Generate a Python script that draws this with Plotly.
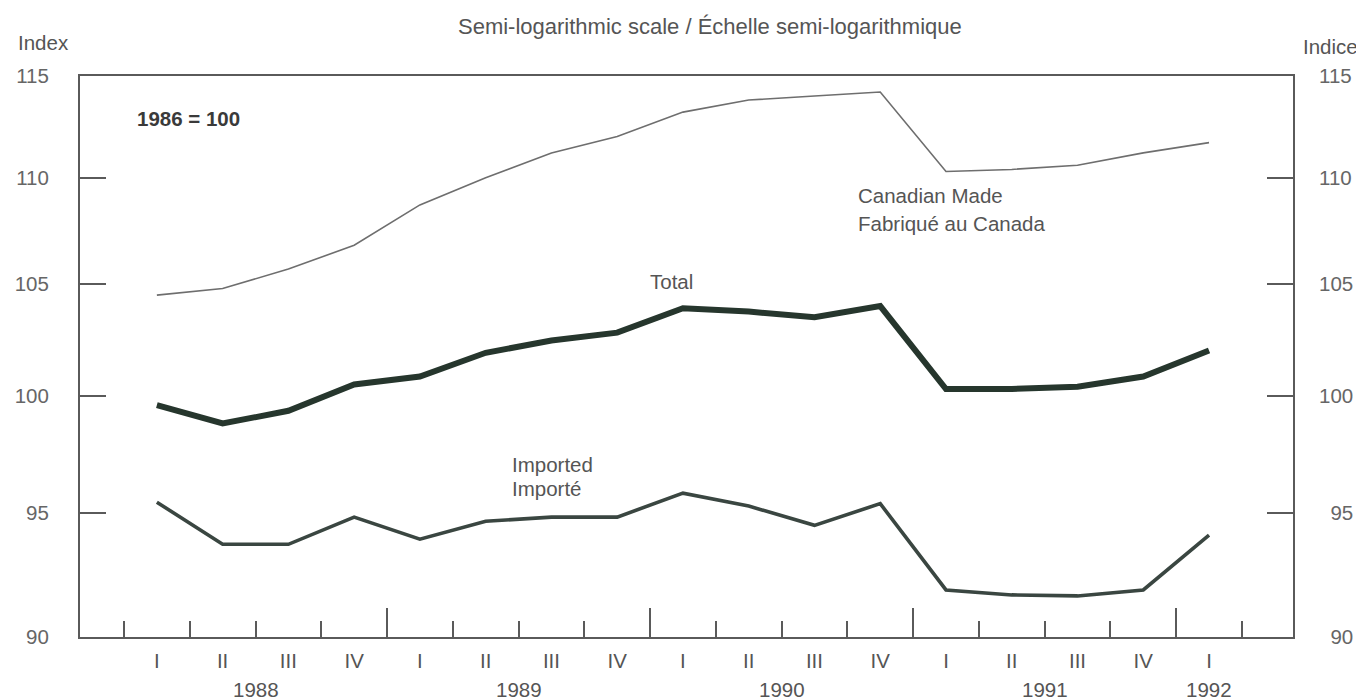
import math
import plotly.graph_objects as go

# ---- data ----
quarters = ["I", "II", "III", "IV", "I", "II", "III", "IV", "I", "II", "III", "IV",
            "I", "II", "III", "IV", "I"]
years = [1988, 1988, 1988, 1988, 1989, 1989, 1989, 1989, 1990, 1990, 1990, 1990,
         1991, 1991, 1991, 1991, 1992]
canadian_made = [104.5, 104.8, 105.7, 106.8, 108.7, 110.0, 111.2, 112.0, 113.2, 113.8,
                 114.0, 114.2, 110.3, 110.4, 110.6, 111.2, 111.7]
total = [99.6, 98.8, 99.35, 100.5, 100.85, 101.9, 102.45, 102.8, 103.9, 103.75,
         103.5, 104.0, 100.3, 100.3, 100.4, 100.85, 102.0]
imported = [95.46, 93.72, 93.72, 94.84, 93.93, 94.67, 94.84, 94.84, 95.84, 95.3,
            94.5, 95.4, 91.87, 91.67, 91.63, 91.87, 94.1]
y_ticks = [90, 95, 100, 105, 110, 115]

FONT = "Liberation Sans, Arial, sans-serif"
TXT = "#555555"
AX = "#5a5a5a"
FS = 20.5

# plot-area geometry (pixels)
L, R, T, B = 72, 1285, 68, 629
W, H = 1364, 700
PW, PH = R - L, B - T

def px(xp):
    return (xp - L) / PW

def py(yp):
    return (B - yp) / PH

xi = list(range(len(quarters)))
quarter_bounds = [i - 0.5 for i in range(len(quarters) + 1)]
year_bounds = [i - 0.5 for i in xi if quarters[i] == "I" and i > 0]
xr = [-1.169, 17.277]
yr = [math.log10(90), math.log10(115)]

fig = go.Figure()
fig.add_trace(go.Scatter(x=xi, y=canadian_made, mode="lines",
                         line=dict(color="#6e6e6e", width=1.6), hoverinfo="skip"))
fig.add_trace(go.Scatter(x=xi, y=total, mode="lines",
                         line=dict(color="#26362d", width=6), hoverinfo="skip"))
fig.add_trace(go.Scatter(x=xi, y=imported, mode="lines",
                         line=dict(color="#3a4641", width=3.6), hoverinfo="skip"))
# helper trace so the overlay axes are drawn
fig.add_trace(go.Scatter(x=[None], y=[None], xaxis="x2", yaxis="y2",
                         mode="lines", hoverinfo="skip", showlegend=False))

fig.update_layout(
    width=W, height=H,
    margin=dict(l=L, r=W - R, t=T, b=H - B, autoexpand=False),
    paper_bgcolor="white", plot_bgcolor="white",
    showlegend=False,
    font=dict(family=FONT, color=TXT, size=FS),
    xaxis=dict(range=xr, showgrid=False, zeroline=False, automargin=False,
               showline=True, mirror=True, linecolor=AX, linewidth=2,
               tickmode="array", tickvals=year_bounds, ticks="inside",
               ticklen=29, tickwidth=1.5, tickcolor=AX, showticklabels=False,
               minor=dict(tickmode="array", tickvals=quarter_bounds, ticks="inside",
                          ticklen=16, tickwidth=1.5, tickcolor=AX)),
    xaxis2=dict(range=xr, overlaying="x", anchor="y", side="bottom", automargin=False,
                showgrid=False, zeroline=False, showline=False,
                tickmode="array", tickvals=xi, ticktext=quarters, ticks="",
                ticklabelstandoff=9,
                tickfont=dict(family=FONT, size=FS, color=TXT)),
    yaxis=dict(type="log", range=yr, showgrid=False, zeroline=False, automargin=False,
               showline=True, mirror=True, linecolor=AX, linewidth=2,
               tickmode="array", tickvals=y_ticks, ticktext=[str(v) for v in y_ticks],
               ticks="inside", ticklen=26, tickwidth=1.5, tickcolor=AX,
               ticklabelstandoff=25,
               tickfont=dict(family=FONT, size=FS, color="#666666")),
    yaxis2=dict(type="log", range=yr, overlaying="y", anchor="x", side="right",
                automargin=False,
                showgrid=False, zeroline=False, showline=False,
                tickmode="array", tickvals=y_ticks,
                ticktext=[("\u2007" if v < 100 else "") + str(v) for v in y_ticks],
                ticks="inside", ticklen=26, tickwidth=1.5, tickcolor=AX,
                ticklabelstandoff=25,
                tickfont=dict(family=FONT, size=FS, color="#666666")),
)

ann = []
# year labels centered under their quarters
for yv in sorted(set(years)):
    pos = [i for i in xi if years[i] == yv]
    ann.append(dict(x=sum(pos) / len(pos), y=py(681), xref="x", yref="paper",
                    text=str(yv), showarrow=False, xanchor="center", yanchor="middle",
                    font=dict(size=FS, color=TXT)))
ann += [
    dict(x=px(702), y=py(19), xref="paper", yref="paper",
         text="Semi-logarithmic scale / Échelle semi-logarithmique", showarrow=False,
         xanchor="center", yanchor="middle", font=dict(size=22, color=TXT)),
    dict(x=px(8), y=py(35), xref="paper", yref="paper",
         text="Index", showarrow=False, xanchor="left", yanchor="middle",
         font=dict(size=FS, color=TXT)),
    dict(x=px(1352), y=py(38), xref="paper", yref="paper",
         text="Indice", showarrow=False, xanchor="right", yanchor="middle",
         font=dict(size=FS, color=TXT)),
    dict(x=-0.333, y=2.05254, xref="x", yref="y", text="<b>1986 = 100</b>",
         showarrow=False, xanchor="left", yanchor="middle",
         font=dict(size=FS, color="#3a3a3a")),
    dict(x=10.63, y=2.03793, xref="x", yref="y", text="Canadian Made",
         showarrow=False, xanchor="left", yanchor="middle", font=dict(size=FS, color=TXT)),
    dict(x=10.63, y=2.03262, xref="x", yref="y", text="Fabriqué au Canada",
         showarrow=False, xanchor="left", yanchor="middle", font=dict(size=FS, color=TXT)),
    dict(x=7.83, y=2.02161, xref="x", yref="y", text="Total",
         showarrow=False, xanchor="center", yanchor="middle", font=dict(size=FS, color=TXT)),
    dict(x=5.37, y=1.98689, xref="x", yref="y", text="Imported",
         showarrow=False, xanchor="left", yanchor="middle", font=dict(size=FS, color=TXT)),
    dict(x=5.37, y=1.98233, xref="x", yref="y", text="Importé",
         showarrow=False, xanchor="left", yanchor="middle", font=dict(size=FS, color=TXT)),
]
fig.update_layout(annotations=ann)

fig.write_html("out.html")
